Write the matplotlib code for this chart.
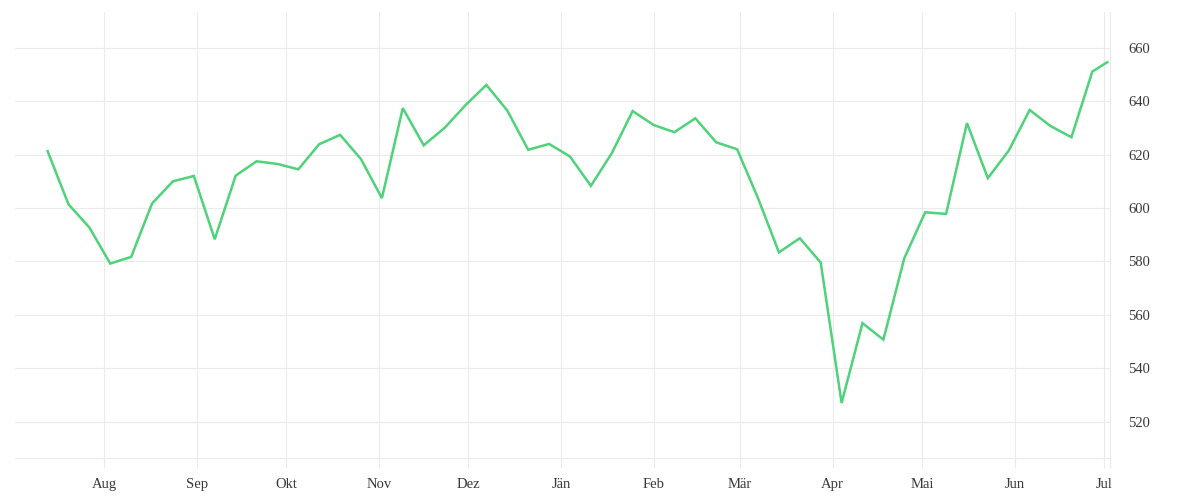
import numpy as np
import pandas as pd
import matplotlib
matplotlib.use("Agg")
import matplotlib.pyplot as plt
import matplotlib.dates as mdates

# weekly closes (Saturdays) plus the last partial week
dates = list(pd.date_range("2019-07-13", periods=51, freq="7D")) + [pd.Timestamp("2020-07-02")]
values = [621.3, 601.4, 592.7, 579.2, 581.7, 601.7, 610.0, 612.0, 588.3, 612.1,
          617.5, 616.5, 614.5, 623.9, 627.4, 618.3, 603.7, 637.4, 623.5, 630.0,
          638.5, 646.1, 636.5, 621.8, 624.0, 619.3, 608.3, 620.5, 636.3, 631.1,
          628.4, 633.6, 624.6, 622.0, 603.7, 583.4, 588.7, 579.6, 527.0, 556.9,
          550.7, 581.2, 598.4, 597.8, 631.8, 611.2, 621.5, 636.7, 630.7, 626.5,
          651.1, 654.6]

month_starts = pd.date_range("2019-08-01", "2020-07-01", freq="MS")
month_labels = ["Aug", "Sep", "Okt", "Nov", "Dez", "Jän", "Feb", "Mär",
                "Apr", "Mai", "Jun", "Jul"]
y_ticks = [520, 540, 560, 580, 600, 620, 640, 660]

grid_color = "#ebebeb"
text_color = "#383838"
line_color = "#4ed27a"

plt.rcParams["font.family"] = ["Liberation Serif", "DejaVu Serif"]

fig = plt.figure(figsize=(12, 5), dpi=100)
ax = fig.add_axes([15 / 1200, 42 / 500, 1095 / 1200, 446 / 500])

ax.plot(dates, values, color=line_color, linewidth=1.8, solid_joinstyle="miter", zorder=3)

xmin = pd.Timestamp("2019-07-02 02:00")
xmax = pd.Timestamp("2020-07-02 22:00")
ax.set_xlim(xmin, xmax)
ax.set_ylim(506.4, 673.4)

ax.set_xticks(month_starts)
ax.set_xticklabels(month_labels)
ax.set_xticks([xmax], minor=True)
ax.set_yticks(y_ticks)
ax.set_yticklabels([str(v) for v in y_ticks])

ax.yaxis.tick_right()
ax.tick_params(axis="x", which="both", length=7.2, width=0.8, color=grid_color,
               pad=7.5, labelsize=10.5, labelcolor=text_color)
ax.tick_params(axis="y", length=0, pad=13, labelsize=10.5, labelcolor=text_color)

ax.grid(True, color=grid_color, linewidth=0.8)
ax.set_axisbelow(True)

for side in ["top", "left"]:
    ax.spines[side].set_visible(False)
for side in ["bottom", "right"]:
    ax.spines[side].set_color(grid_color)
    ax.spines[side].set_linewidth(0.8)

fig.savefig("out.png", dpi=100)
